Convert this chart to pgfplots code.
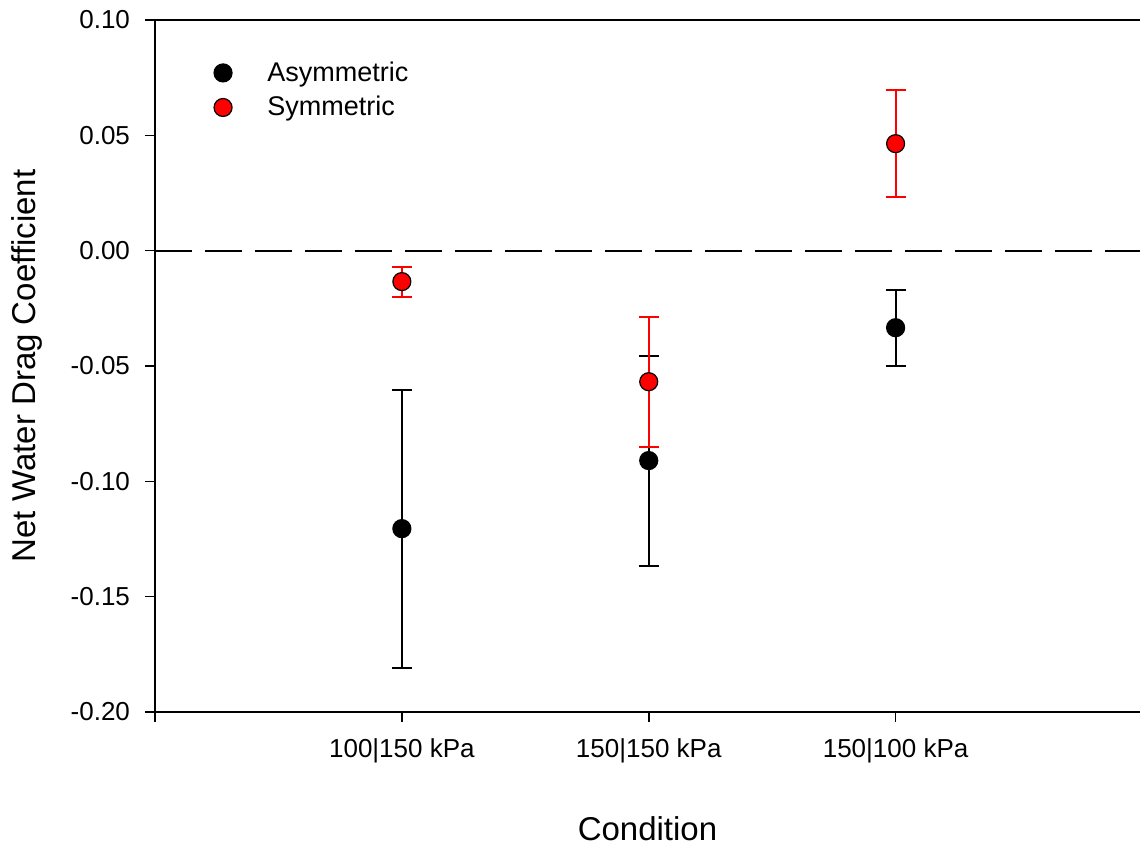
\documentclass[border=0pt]{standalone}
\usepackage{fontspec}
\setmainfont{Liberation Sans}
\usepackage{pgfplots}
\pgfplotsset{compat=1.18}

\definecolor{symred}{RGB}{255,0,0}

\begin{document}
\begin{tikzpicture}
\useasboundingbox (-77.5pt,-68pt) rectangle (492.5pt,356pt);
\begin{axis}[
  scale only axis,
  width=492.5pt, height=346pt,
  xmin=0, xmax=3.99,
  ymin=-0.20, ymax=0.10,
  axis x line*=box,
  axis y line*=left,
  axis line style={line width=1pt},
  xtick={0,1,2,3},
  xticklabels={,100|150 kPa,150|150 kPa,150|100 kPa},
  xtick pos=bottom,
  ytick={-0.20,-0.15,...,0.11},
  tick align=outside,
  major tick length=5pt,
  tick style={line width=0.8pt, black},
  /pgf/number format/assume math mode=true,
  yticklabel style={xshift=-4pt, /pgf/number format/.cd, fixed, fixed zerofill, precision=2},
  xticklabel style={yshift=-5pt},
  ticklabel style={font=\fontsize{13}{15}\selectfont},
  xlabel={Condition},
  ylabel={Net Water Drag Coefficient},
  every axis x label/.style={at={(axis description cs:0.5,-0.168)}, anchor=center, font=\fontsize{16.5}{19}\selectfont},
  every axis y label/.style={at={(axis description cs:-0.13,0.5)}, anchor=center, rotate=90, font=\fontsize{16.5}{19}\selectfont},
  legend style={at={(axis description cs:0.05,0.952)}, anchor=north west, draw=none, fill=none,
    font=\fontsize{13.5}{16}\selectfont, row sep=2pt},
  legend cell align=left,
  legend image code/.code={\path (-6pt,0pt) (20pt,0pt); \draw[#1] plot coordinates {(0pt,0pt)};},
  clip=false,
]
% zero reference line
\addplot[black, line width=1pt, dash pattern=on 18.5pt off 6.5pt, forget plot]
  coordinates {(0,0) (3.99,0)};

% asymmetric condition: mean +- error
\addplot[only marks, mark=*, mark size=4.5pt, mark options={fill=black, draw=black, line width=0.6pt},
  error bars/.cd, y dir=both, y explicit,
  error bar style={black, line width=1pt},
  error mark options={rotate=90, mark size=5pt, black, line width=1pt}]
  coordinates {
    (1,-0.1205) +- (0,0.0603)
    (2,-0.0910) +- (0,0.0455)
    (3,-0.0334) +- (0,0.0165)
  };
\addlegendentry{Asymmetric}

% symmetric condition: mean +- error
\addplot[only marks, mark=*, mark size=4.5pt, mark options={fill=symred, draw=black, line width=0.6pt},
  error bars/.cd, y dir=both, y explicit,
  error bar style={symred, line width=1pt},
  error mark options={rotate=90, mark size=5pt, symred, line width=1pt}]
  coordinates {
    (1,-0.0134) +- (0,0.0065)
    (2,-0.0568) +- (0,0.0282)
    (3, 0.0464) +- (0,0.0232)
  };
\addlegendentry{Symmetric}
\end{axis}
\end{tikzpicture}
\end{document}
